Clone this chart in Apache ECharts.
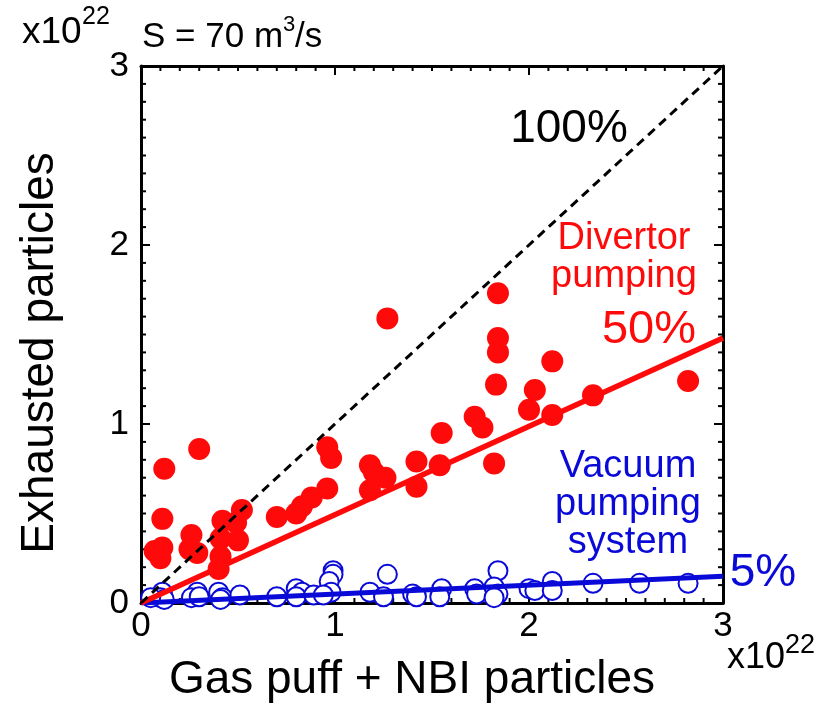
<!DOCTYPE html>
<html>
<head>
<meta charset="utf-8">
<script src="https://cdn.jsdelivr.net/npm/echarts@6/dist/echarts.min.js"></script>
<style>
body{margin:0;background:#fff}
#chart{width:829px;height:704px}
</style>
</head>
<body>
<div id="chart"></div>
<script>
// ---- data (units of 1e22 particles) ----
const divertorPumping = [
  [0.12,0.75],[0.30,0.86],[0.11,0.47],[0.07,0.29],[0.11,0.31],[0.10,0.25],
  [0.26,0.38],[0.25,0.30],[0.29,0.28],[0.42,0.46],[0.41,0.36],[0.40,0.19],
  [0.41,0.26],[0.52,0.52],[0.49,0.45],[0.50,0.35],[0.70,0.48],[0.80,0.50],
  [0.83,0.54],[0.88,0.59],[0.96,0.64],[0.96,0.87],[0.98,0.81],[1.27,1.59],
  [1.18,0.77],[1.18,0.63],[1.26,0.70],[1.20,0.73],[1.42,0.79],[1.42,0.65],
  [1.55,0.95],[1.54,0.77],[1.72,1.04],[1.76,0.98],[1.84,1.73],[1.84,1.48],
  [1.84,1.40],[1.83,1.22],[1.82,0.78],[2.12,1.35],[2.03,1.19],[2.00,1.08],
  [2.12,1.05],[2.33,1.16],[2.82,1.24]
];
const vacuumPumping = [
  [0.11,0.06],[0.10,0.03],[0.12,0.02],[0.05,0.03],[0.29,0.06],[0.26,0.03],
  [0.30,0.035],[0.40,0.06],[0.42,0.03],[0.41,0.02],[0.51,0.045],[0.70,0.035],
  [0.80,0.08],[0.83,0.06],[0.80,0.035],[0.89,0.045],[0.99,0.18],[0.99,0.16],
  [0.97,0.12],[0.98,0.06],[0.94,0.045],[1.18,0.06],[1.27,0.16],[1.25,0.035],
  [1.40,0.05],[1.42,0.035],[1.55,0.08],[1.54,0.035],[1.72,0.08],[1.73,0.05],
  [1.84,0.18],[1.82,0.09],[1.84,0.05],[1.82,0.03],[2.00,0.08],[2.03,0.07],
  [2.12,0.12],[2.12,0.07],[2.33,0.11],[2.57,0.11],[2.82,0.11]
];
const line100 = [[0,0],[3,3]];
const line50 = [[0,0],[3,1.48]];
const line5 = [[0,0],[3,0.15]];
const axisMin = 0, axisMax = 3, axisStep = 1, minorPerMajor = 10;

const RED = '#ff0a0a';
const BLUE = '#0a0ad8';
const FONT = '"Liberation Sans", Arial, Helvetica, sans-serif';

// tick positions on the shared 0..3 scale (major every 1, minor every 0.1)
const tickValues = [];
for (let i = 0; i <= (axisMax - axisMin) / axisStep * minorPerMajor; i++) {
  tickValues.push([axisMin + i * axisStep / minorPerMajor, i % minorPerMajor === 0 ? 1 : 0]);
}

function ax(pos, label, margin){
  return {type:'value', gridIndex:0, position:pos, min:axisMin, max:axisMax, interval:axisStep,
    axisLine:{show:true, onZero:false, lineStyle:{color:'#000', width:3}},
    axisTick:{show:false}, minorTick:{show:false},
    splitLine:{show:false},
    axisLabel:{show:label, color:'#000', fontSize:35, fontFamily:FONT, margin:margin}};
}

function renderTicks(params, api){
  const v = api.value(0);
  const major = api.value(1) === 1;
  const L = major ? 9 : 5;
  const b = api.coord([v, axisMin]);
  const t = api.coord([v, axisMax]);
  const l = api.coord([axisMin, v]);
  const r = api.coord([axisMax, v]);
  const st = {stroke:'#000', lineWidth:2};
  return {type:'group', children:[
    {type:'line', shape:{x1:b[0], y1:b[1], x2:b[0], y2:b[1]-L}, style:st},
    {type:'line', shape:{x1:t[0], y1:t[1], x2:t[0], y2:t[1]+L}, style:st},
    {type:'line', shape:{x1:l[0], y1:l[1], x2:l[0]+L, y2:l[1]}, style:st},
    {type:'line', shape:{x1:r[0], y1:r[1], x2:r[0]-L, y2:r[1]}, style:st}
  ]};
}

echarts.init(document.getElementById('chart')).setOption({
  animation:false,
  backgroundColor:'#fff',
  grid:{left:141, top:66, width:582, height:537},
  xAxis:[ax('bottom', true, 6), ax('top', false, 8)],
  yAxis:[ax('left', true, 12), ax('right', false, 8)],
  series:[
    {type:'custom', data:tickValues, renderItem:renderTicks, clip:false, silent:true, z:1,
      encode:{x:0}},
    {type:'scatter', data:vacuumPumping, symbol:'emptyCircle', symbolSize:19, z:2,
      itemStyle:{color:BLUE, borderColor:BLUE, borderWidth:2.2, opacity:1}},
    {type:'line', data:line5, symbol:'none', z:3, lineStyle:{color:BLUE, width:5}},
    {type:'scatter', data:divertorPumping, symbol:'circle', symbolSize:22, z:4,
      itemStyle:{color:RED, opacity:1}},
    {type:'line', data:line50, symbol:'none', z:5, lineStyle:{color:RED, width:5.5}},
    {type:'line', data:line100, symbol:'none', z:6, lineStyle:{color:'#000', width:3, type:[9,6]}}
  ],
  graphic:[
    {type:'text', x:22, y:14, style:{text:'x10', fontSize:37, fontFamily:FONT, fill:'#000'}},
    {type:'text', x:82, y:5, style:{text:'22', fontSize:25, fontFamily:FONT, fill:'#000'}},
    {type:'text', x:142, y:20, style:{text:'S = 70 m', fontSize:35, fontFamily:FONT, fill:'#000'}},
    {type:'text', x:283, y:14, style:{text:'3', fontSize:22, fontFamily:FONT, fill:'#000'}},
    {type:'text', x:295, y:20, style:{text:'/s', fontSize:35, fontFamily:FONT, fill:'#000'}},
    {type:'text', x:727, y:640, style:{text:'x10', fontSize:36, fontFamily:FONT, fill:'#000'}},
    {type:'text', x:785, y:632, style:{text:'22', fontSize:27, fontFamily:FONT, fill:'#000'}},
    {type:'text', x:412, y:680, style:{text:'Gas puff + NBI particles', fontSize:46, fontFamily:FONT, fill:'#000', align:'center', verticalAlign:'middle'}},
    {type:'text', x:40, y:353, rotation:Math.PI/2, style:{text:'Exhausted particles', fontSize:46, fontFamily:FONT, fill:'#000', align:'center', verticalAlign:'middle'}},
    {type:'text', x:569, y:129, style:{text:'100%', fontSize:46, fontFamily:FONT, fill:'#000', align:'center', verticalAlign:'middle'}},
    {type:'text', x:624, y:258, style:{text:'Divertor\npumping', fontSize:38, lineHeight:38, fontFamily:FONT, fill:RED, align:'center', verticalAlign:'middle'}},
    {type:'text', x:649, y:330, style:{text:'50%', fontSize:47, fontFamily:FONT, fill:RED, align:'center', verticalAlign:'middle'}},
    {type:'text', x:628, y:505, style:{text:'Vacuum\npumping\nsystem', fontSize:38, lineHeight:38, fontFamily:FONT, fill:BLUE, align:'center', verticalAlign:'middle'}},
    {type:'text', x:763, y:573, style:{text:'5%', fontSize:46, fontFamily:FONT, fill:BLUE, align:'center', verticalAlign:'middle'}}
  ]
});
</script>
</body>
</html>
